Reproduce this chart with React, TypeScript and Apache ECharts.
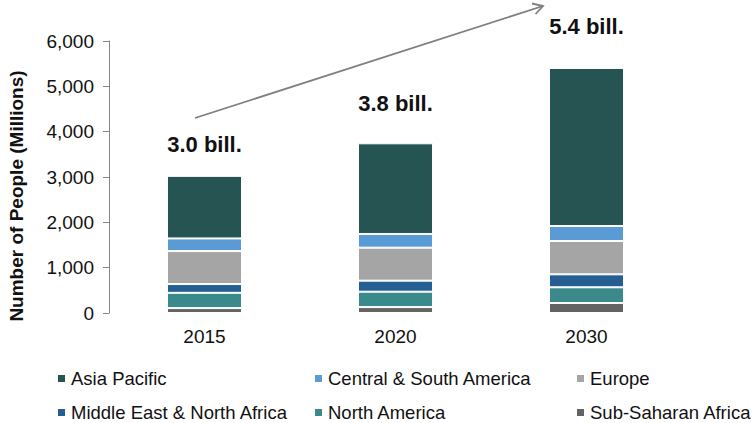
import React, { useEffect, useRef } from "react";
import * as echarts from "echarts";

const years = ["2015", "2020", "2030"];
const subSaharanAfrica = [108, 130, 220];
const northAmerica = [337, 340, 347];
const middleEastNorthAfrica = [193, 243, 286];
const europe = [728, 728, 735];
const centralSouthAmerica = [279, 302, 331];
const asiaPacific = [1380, 2000, 3486];
const totalLabels = ["3.0 bill.", "3.8 bill.", "5.4 bill."];
const yTicks = [0, 1000, 2000, 3000, 4000, 5000, 6000];

const FONT = "'Liberation Sans', Arial, sans-serif";

export default function App() {
  const ref = useRef<HTMLDivElement>(null);
  useEffect(() => {
    if (!ref.current) return;
    document.body.style.margin = "0";
    document.body.style.overflow = "hidden";
    const chart = echarts.init(ref.current, null, { renderer: "svg" });
    const labelDistances = [20, 29, 30];
    const seriesDefs = [
      { name: "Sub-Saharan Africa", data: subSaharanAfrica, color: "#636363" },
      { name: "North America", data: northAmerica, color: "#3a8a8c" },
      { name: "Middle East & North Africa", data: middleEastNorthAfrica, color: "#255e91" },
      { name: "Europe", data: europe, color: "#a5a5a5" },
      { name: "Central & South America", data: centralSouthAmerica, color: "#5b9bd5" },
      { name: "Asia Pacific", data: asiaPacific, color: "#255453" },
    ];
    const series = seriesDefs.map((s, i) => {
      const isTop = i === seriesDefs.length - 1;
      return {
        name: s.name,
        type: "bar",
        stack: "total",
        barWidth: 75,
        itemStyle: { color: s.color, borderColor: "#ffffff", borderWidth: 1 },
        label: isTop
          ? {
              show: true,
              position: "top",
              formatter: (p: any) => totalLabels[p.dataIndex],
              fontFamily: FONT,
              fontSize: 22,
              fontWeight: "bold",
              color: "#111",
            }
          : { show: false },
        data: isTop
          ? s.data.map((v, j) => ({ value: v, label: { distance: labelDistances[j] } }))
          : s.data,
      };
    });
    const legendCols = [56, 313, 575];
    const legendRows = [369, 403];
    const legendOrder = [
      "Asia Pacific",
      "Central & South America",
      "Europe",
      "Middle East & North Africa",
      "North America",
      "Sub-Saharan Africa",
    ];
    const legends = legendOrder.map((name, i) => ({
      data: [name],
      left: legendCols[i % 3],
      top: legendRows[Math.floor(i / 3)],
      icon: "rect",
      itemWidth: 9,
      itemHeight: 9,
      padding: 0,
      selectedMode: false,
      textStyle: { fontFamily: FONT, fontSize: 18.5, color: "#111" },
    }));
    chart.setOption({
      animation: false,
      grid: { left: 109, right: 72, top: 41, bottom: 110 },
      legend: legends,
      xAxis: {
        type: "category",
        data: years,
        axisLine: { show: false },
        axisTick: { show: false },
        axisLabel: { fontFamily: FONT, fontSize: 19, color: "#111", margin: 14 },
      },
      yAxis: {
        type: "value",
        min: yTicks[0],
        max: yTicks[yTicks.length - 1],
        interval: 1000,
        splitLine: { show: false },
        axisLine: { show: true, lineStyle: { color: "#868686", width: 1 } },
        axisTick: { show: true, length: 6, lineStyle: { color: "#868686" } },
        axisLabel: {
          fontFamily: FONT,
          fontSize: 19,
          color: "#111",
          margin: 15,
          formatter: (v: number) => v.toLocaleString("en-US"),
        },
      },
      series,
      graphic: [
        {
          type: "text",
          x: 16,
          y: 196,
          rotation: Math.PI / 2,
          style: {
            text: "Number of People (Millions)",
            fontFamily: FONT,
            fontSize: 19,
            fontWeight: "bold",
            fill: "#111",
            textAlign: "center",
            textVerticalAlign: "middle",
          },
        },
        {
          type: "polyline",
          shape: { points: [[195, 118], [543, 6]] },
          style: { stroke: "#7f7f7f", lineWidth: 1.8, fill: "none" },
        },
        {
          type: "polyline",
          shape: { points: [[532, 3.5], [543, 6], [535.5, 14]] },
          style: { stroke: "#7f7f7f", lineWidth: 1.8, fill: "none" },
        },
      ],
    });
    return () => chart.dispose();
  }, []);
  return <div ref={ref} style={{ width: 754, height: 423 }} />;
}
